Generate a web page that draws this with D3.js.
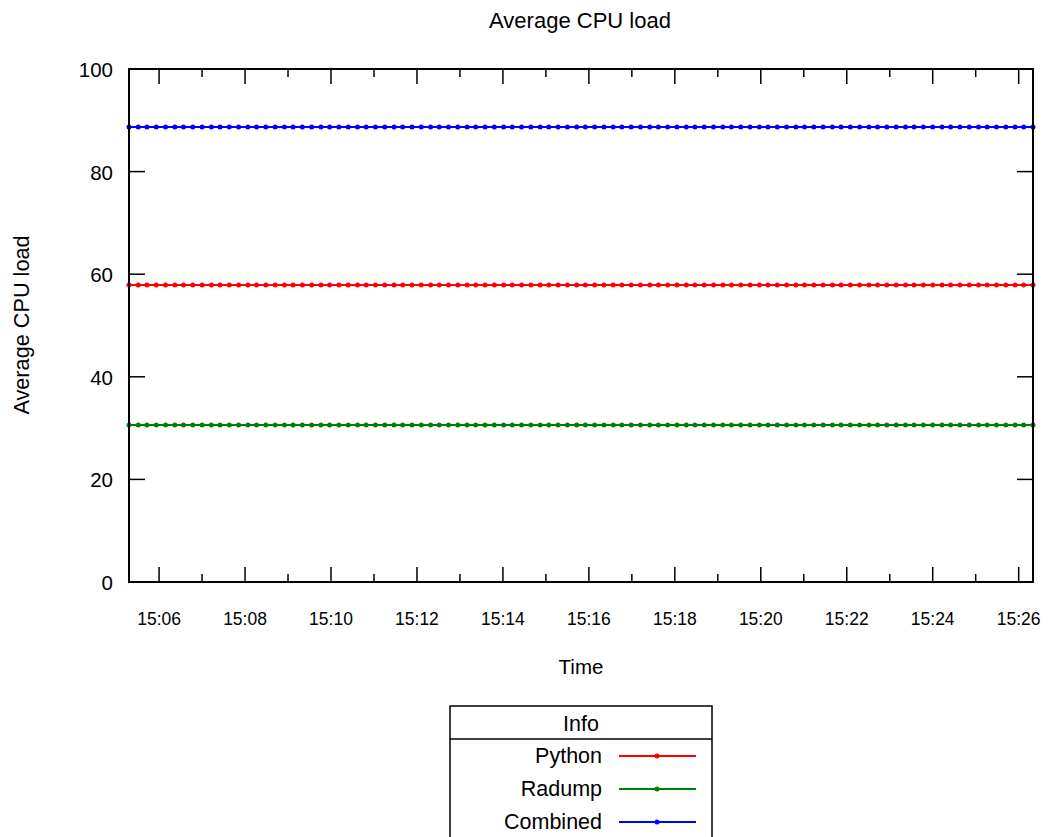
<!DOCTYPE html>
<html>
<head>
<meta charset="utf-8">
<script src="https://cdn.jsdelivr.net/npm/d3@7"></script>
<style>
  body { margin: 0; background: #fff; }
  svg { font-family: "Liberation Sans", Arial, sans-serif; }
</style>
</head>
<body>
<div id="chart"></div>
<script>
const width = 1049
const height = 837
const margin = { top: 69, bottom: 255, left: 129, right: 16 }

// sample times (hh:mm:ss)
const times = [
  "15:05:18","15:05:31","15:05:43","15:05:56","15:06:09","15:06:22","15:06:34","15:06:47","15:07:00","15:07:13",
  "15:07:25","15:07:38","15:07:51","15:08:04","15:08:16","15:08:29","15:08:42","15:08:55","15:09:07","15:09:20",
  "15:09:33","15:09:46","15:09:58","15:10:11","15:10:24","15:10:37","15:10:49","15:11:02","15:11:15","15:11:28",
  "15:11:40","15:11:53","15:12:06","15:12:19","15:12:31","15:12:44","15:12:57","15:13:10","15:13:22","15:13:35",
  "15:13:48","15:14:01","15:14:13","15:14:26","15:14:39","15:14:52","15:15:04","15:15:17","15:15:30","15:15:43",
  "15:15:55","15:16:08","15:16:21","15:16:34","15:16:46","15:16:59","15:17:12","15:17:25","15:17:37","15:17:50",
  "15:18:03","15:18:16","15:18:28","15:18:41","15:18:54","15:19:07","15:19:19","15:19:32","15:19:45","15:19:58",
  "15:20:10","15:20:23","15:20:36","15:20:49","15:21:01","15:21:14","15:21:27","15:21:40","15:21:52","15:22:05",
  "15:22:18","15:22:31","15:22:43","15:22:56","15:23:09","15:23:22","15:23:34","15:23:47","15:24:00","15:24:13",
  "15:24:25","15:24:38","15:24:51","15:25:04","15:25:16","15:25:29","15:25:42","15:25:55","15:26:07","15:26:20"
]

// average load is the same at every sample
const seriesNames = ["Python", "Radump", "Combined"]
const seriesAverage = [57.9, 30.6, 88.7]
const seriesColors = ["#ff0000", "#008000", "#0000ff"]

const yTicks = [0, 20, 40, 60, 80, 100]
const xTickLabels = ["15:06","15:08","15:10","15:12","15:14","15:16","15:18","15:20","15:22","15:24","15:26"]
const xMinorLabels = ["15:07","15:09","15:11","15:13","15:15","15:17","15:19","15:21","15:23","15:25"]

const parse = d3.timeParse("%H:%M:%S")
const parseHM = d3.timeParse("%H:%M")
const dates = times.map(parse)

const svg = d3.select("#chart").append("svg")
    .attr("width", width)
    .attr("height", height)

const x = d3.scaleTime()
    .domain(d3.extent(dates))
    .range([margin.left, width - margin.right])
const y = d3.scaleLinear()
    .domain([0, 100])
    .range([height - margin.bottom, margin.top])

const x0 = margin.left, x1 = width - margin.right
const y0 = height - margin.bottom, y1 = margin.top

// ticks
let tickGroup = svg.append("g").attr("stroke", "#000").attr("stroke-width", 1.5)
xTickLabels.map(parseHM).forEach(d => {
    tickGroup.append("line").attr("x1", x(d)).attr("x2", x(d)).attr("y1", y0).attr("y2", y0 - 15)
    tickGroup.append("line").attr("x1", x(d)).attr("x2", x(d)).attr("y1", y1).attr("y2", y1 + 15)
})
xMinorLabels.map(parseHM).forEach(d => {
    tickGroup.append("line").attr("x1", x(d)).attr("x2", x(d)).attr("y1", y0).attr("y2", y0 - 8)
    tickGroup.append("line").attr("x1", x(d)).attr("x2", x(d)).attr("y1", y1).attr("y2", y1 + 8)
})
yTicks.forEach(v => {
    tickGroup.append("line").attr("x1", x0).attr("x2", x0 + 16).attr("y1", y(v)).attr("y2", y(v))
    tickGroup.append("line").attr("x1", x1).attr("x2", x1 - 16).attr("y1", y(v)).attr("y2", y(v))
})

// tick labels
svg.append("g").selectAll("text").data(yTicks).enter().append("text")
    .attr("x", x0 - 16).attr("y", d => y(d) + 8)
    .attr("text-anchor", "end").attr("font-size", 20.5)
    .text(d => d)
svg.append("g").selectAll("text").data(xTickLabels).enter().append("text")
    .attr("x", d => x(parseHM(d))).attr("y", y0 + 43)
    .attr("text-anchor", "middle").attr("font-size", 17.5)
    .text(d => d)

// series
const line = d3.line().x(d => x(d.t)).y(d => y(d.v))
seriesNames.forEach((name, i) => {
    const pts = dates.map(t => ({ t: t, v: seriesAverage[i] }))
    const g = svg.append("g")
    g.append("path").datum(pts)
        .attr("fill", "none").attr("stroke", seriesColors[i]).attr("stroke-width", 2)
        .attr("d", line)
    g.selectAll("circle").data(pts).enter().append("circle")
        .attr("cx", d => x(d.t)).attr("cy", d => y(d.v)).attr("r", 2.5)
        .attr("fill", seriesColors[i])
})

// frame
svg.append("rect")
    .attr("x", x0).attr("y", y1).attr("width", x1 - x0).attr("height", y0 - y1)
    .attr("fill", "none").attr("stroke", "#000").attr("stroke-width", 2)

// titles
svg.append("text").attr("x", 580).attr("y", 28).attr("text-anchor", "middle")
    .attr("font-size", 22).text("Average CPU load")
svg.append("text").attr("x", 581).attr("y", 674).attr("text-anchor", "middle")
    .attr("font-size", 20.5).text("Time")
svg.append("text").attr("transform", "translate(29, 325) rotate(-90)")
    .attr("text-anchor", "middle").attr("font-size", 21.7).text("Average CPU load")

// legend
const legend = svg.append("g")
legend.append("rect").attr("x", 450).attr("y", 706).attr("width", 262).attr("height", 140)
    .attr("fill", "none").attr("stroke", "#000").attr("stroke-width", 1.5)
legend.append("line").attr("x1", 450).attr("x2", 712).attr("y1", 739).attr("y2", 739)
    .attr("stroke", "#000").attr("stroke-width", 1.5)
legend.append("text").attr("x", 581).attr("y", 731).attr("text-anchor", "middle")
    .attr("font-size", 21.5).text("Info")
seriesNames.forEach((name, i) => {
    const ly = 756 + i * 33
    legend.append("text").attr("x", 602).attr("y", ly + 7).attr("text-anchor", "end")
        .attr("font-size", 21.5).text(name)
    legend.append("line").attr("x1", 619).attr("x2", 696).attr("y1", ly).attr("y2", ly)
        .attr("stroke", seriesColors[i]).attr("stroke-width", 2)
    legend.append("circle").attr("cx", 657).attr("cy", ly).attr("r", 2.5).attr("fill", seriesColors[i])
})
</script>
</body>
</html>
